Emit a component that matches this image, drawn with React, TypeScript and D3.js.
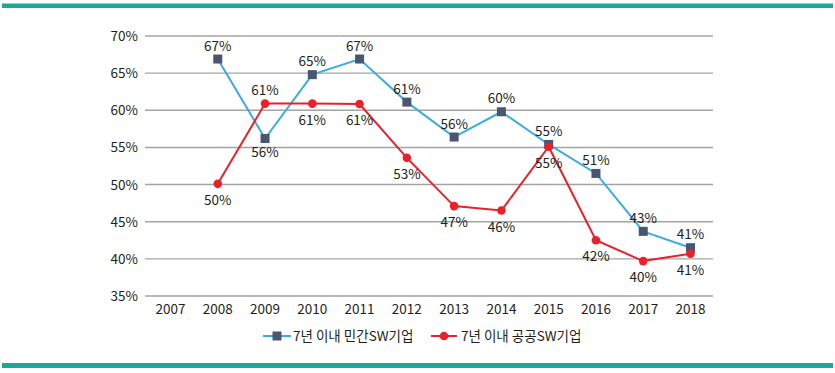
import * as d3 from 'd3';
import React from 'react';

const years = ['2007', '2008', '2009', '2010', '2011', '2012', '2013', '2014', '2015', '2016', '2017', '2018'];
const privateVals: (number | null)[] = [null, 66.9, 56.2, 64.8, 66.9, 61.1, 56.4, 59.8, 55.4, 51.5, 43.7, 41.5];
const publicVals: (number | null)[] = [null, 50.1, 60.9, 60.9, 60.85, 53.6, 47.1, 46.5, 55.1, 42.5, 39.7, 40.7];
const privateLabels = ['', '67%', '56%', '65%', '67%', '61%', '56%', '60%', '55%', '51%', '43%', '41%'];
const publicLabels = ['', '50%', '61%', '61%', '61%', '53%', '47%', '46%', '55%', '42%', '40%', '41%'];
// label position: 1 = above the mark, 0 = below
const privateAbove = [1, 1, 0, 1, 1, 1, 1, 1, 1, 1, 1, 1];
const publicAbove = [0, 0, 1, 0, 0, 0, 0, 0, 0, 0, 0, 0];
const yTicks = [35, 40, 45, 50, 55, 60, 65, 70];
const seriesNames = ['7년 이내 민간SW기업', '7년 이내 공공SW기업'];

const W = 835;
const H = 373;
const font = '"Noto Sans CJK KR", "Noto Sans", sans-serif';
const blue = '#3badde';
const slate = '#4a5670';
const red = '#e8212b';
const teal = '#1aa898';

export default function App() {
  const x = d3.scalePoint().domain(years).range([170.5, 690.5]);
  const y = d3.scaleLinear().domain([35, 70]).range([296, 36]);

  const line = d3
    .line<number | null>()
    .defined((d) => d != null)
    .x((_, i) => x(years[i]) as number)
    .y((d) => y(d as number));

  const labels = (vals: (number | null)[], texts: string[], above: number[], below: number) =>
    vals.map((v, i) =>
      v == null ? null : (
        <text
          key={i}
          x={x(years[i])}
          y={y(v) + (above[i] ? -8.5 : below)}
          textAnchor="middle"
          fontSize={13.5}
          fill="#231f20"
        >
          {texts[i]}
        </text>
      )
    );

  return (
    <svg width={W} height={H} style={{ position: 'absolute', left: 0, top: 0 }} fontFamily={font}>
      <rect x={0} y={0} width={W} height={H} fill="#fff" />
      <rect x={2} y={3.5} width={831} height={4.5} fill={teal} />
      <rect x={2} y={363} width={831} height={5} fill={teal} />

      {yTicks.map((t) => (
        <g key={t}>
          <line x1={145} x2={713} y1={y(t)} y2={y(t)} stroke="#a3a3a3" strokeWidth={1.4} />
          <text x={138} y={y(t) + 5} textAnchor="end" fontSize={13.5} fill="#231f20">
            {t}%
          </text>
        </g>
      ))}

      {years.map((yr) => (
        <text key={yr} x={x(yr)} y={314} textAnchor="middle" fontSize={13.5} fill="#231f20">
          {yr}
        </text>
      ))}

      <path d={line(privateVals) || ''} fill="none" stroke={blue} strokeWidth={2} />
      {privateVals.map((v, i) =>
        v == null ? null : (
          <rect key={i} x={(x(years[i]) as number) - 4.5} y={y(v) - 4.5} width={9} height={9} fill={slate} />
        )
      )}

      <path d={line(publicVals) || ''} fill="none" stroke={red} strokeWidth={2} />
      {publicVals.map((v, i) =>
        v == null ? null : <circle key={i} cx={x(years[i])} cy={y(v)} r={4.3} fill={red} />
      )}

      {labels(privateVals, privateLabels, privateAbove, 18)}
      {labels(publicVals, publicLabels, publicAbove, 21)}

      <g>
        <line x1={263} x2={291} y1={336} y2={336} stroke={blue} strokeWidth={2} />
        <rect x={272.5} y={331.5} width={9} height={9} fill={slate} />
        <text x={293} y={341} fontSize={13.5} fill="#231f20">
          {seriesNames[0]}
        </text>
        <line x1={431} x2={457} y1={336} y2={336} stroke={red} strokeWidth={2} />
        <circle cx={444} cy={336} r={4.3} fill={red} />
        <text x={461} y={341} fontSize={13.5} fill="#231f20">
          {seriesNames[1]}
        </text>
      </g>
    </svg>
  );
}
